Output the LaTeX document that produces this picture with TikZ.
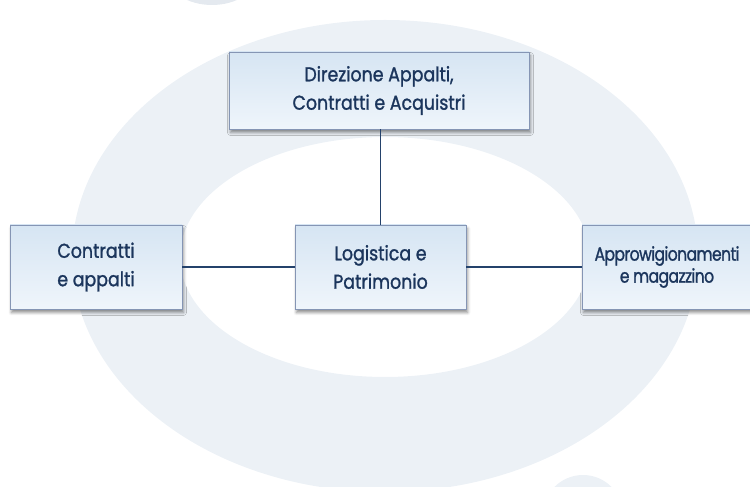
\documentclass[tikz,border=0pt]{standalone}
\usepackage{fontspec}
\setmainfont[FakeStretch=0.87,FakeBold=1.2]{Poppins}
\newfontfamily\tightfont[FakeStretch=0.82,FakeBold=1.2,LetterSpace=-3]{Poppins}
\usetikzlibrary{shadows.blur}

\definecolor{ringcol}{HTML}{ECF1F6}
\definecolor{blobcol}{HTML}{E4E9EF}
\definecolor{boxtop}{HTML}{D6E5F3}
\definecolor{boxbot}{HTML}{EFF5FB}
\definecolor{boxline}{HTML}{8595B4}
\definecolor{inkcol}{HTML}{1B355C}
\definecolor{linkcol}{HTML}{24426B}

\begin{document}
\begin{tikzpicture}[x=1pt,y=1pt,
  unitbox/.style={draw=boxline, line width=0.9pt, top color=boxtop, bottom color=boxbot,
    text=inkcol, align=center, inner sep=0pt,
    font=\fontsize{20}{28.4}\selectfont,
    blur shadow={shadow xshift=1.5pt, shadow yshift=-3.5pt, shadow blur radius=3pt, shadow opacity=45}},
  link/.style={draw=linkcol, line width=1.9pt}]

\useasboundingbox (0,0) rectangle (750,487);
\begin{scope}
\clip (0,0) rectangle (750,487);

% pale ring logo in the background
\fill[ringcol, even odd rule] (385,231) ellipse [x radius=313, y radius=236]
                               (385,230) ellipse [x radius=205, y radius=120];
\fill[blobcol] (212,512) ellipse [x radius=45, y radius=30];
\fill[ringcol] (583,-28) circle [radius=40];

% organisation units
\node[unitbox, minimum width=300, minimum height=77] (dir) at (379,396.5)
  {Direzione Appalti,\\Contratti e Acquistri};
\node[unitbox, minimum width=172, minimum height=84] (contr) at (96,220)
  {Contratti\\e appalti};
\node[unitbox, minimum width=171, minimum height=84] (logi) at (380.5,220)
  {Logistica e\\Patrimonio};
\node[unitbox, minimum width=170, minimum height=84,
      font=\tightfont\fontsize{19}{22}\selectfont] (appr) at (667,220)
  {Approwigionamenti\\e magazzino};

% reporting lines
\draw[link] (logi.north) -- (logi.north |- dir.south);
\draw[link] (contr.east) -- (logi.west);
\draw[link] (logi.east) -- (appr.west);
\end{scope}
\end{tikzpicture}
\end{document}
